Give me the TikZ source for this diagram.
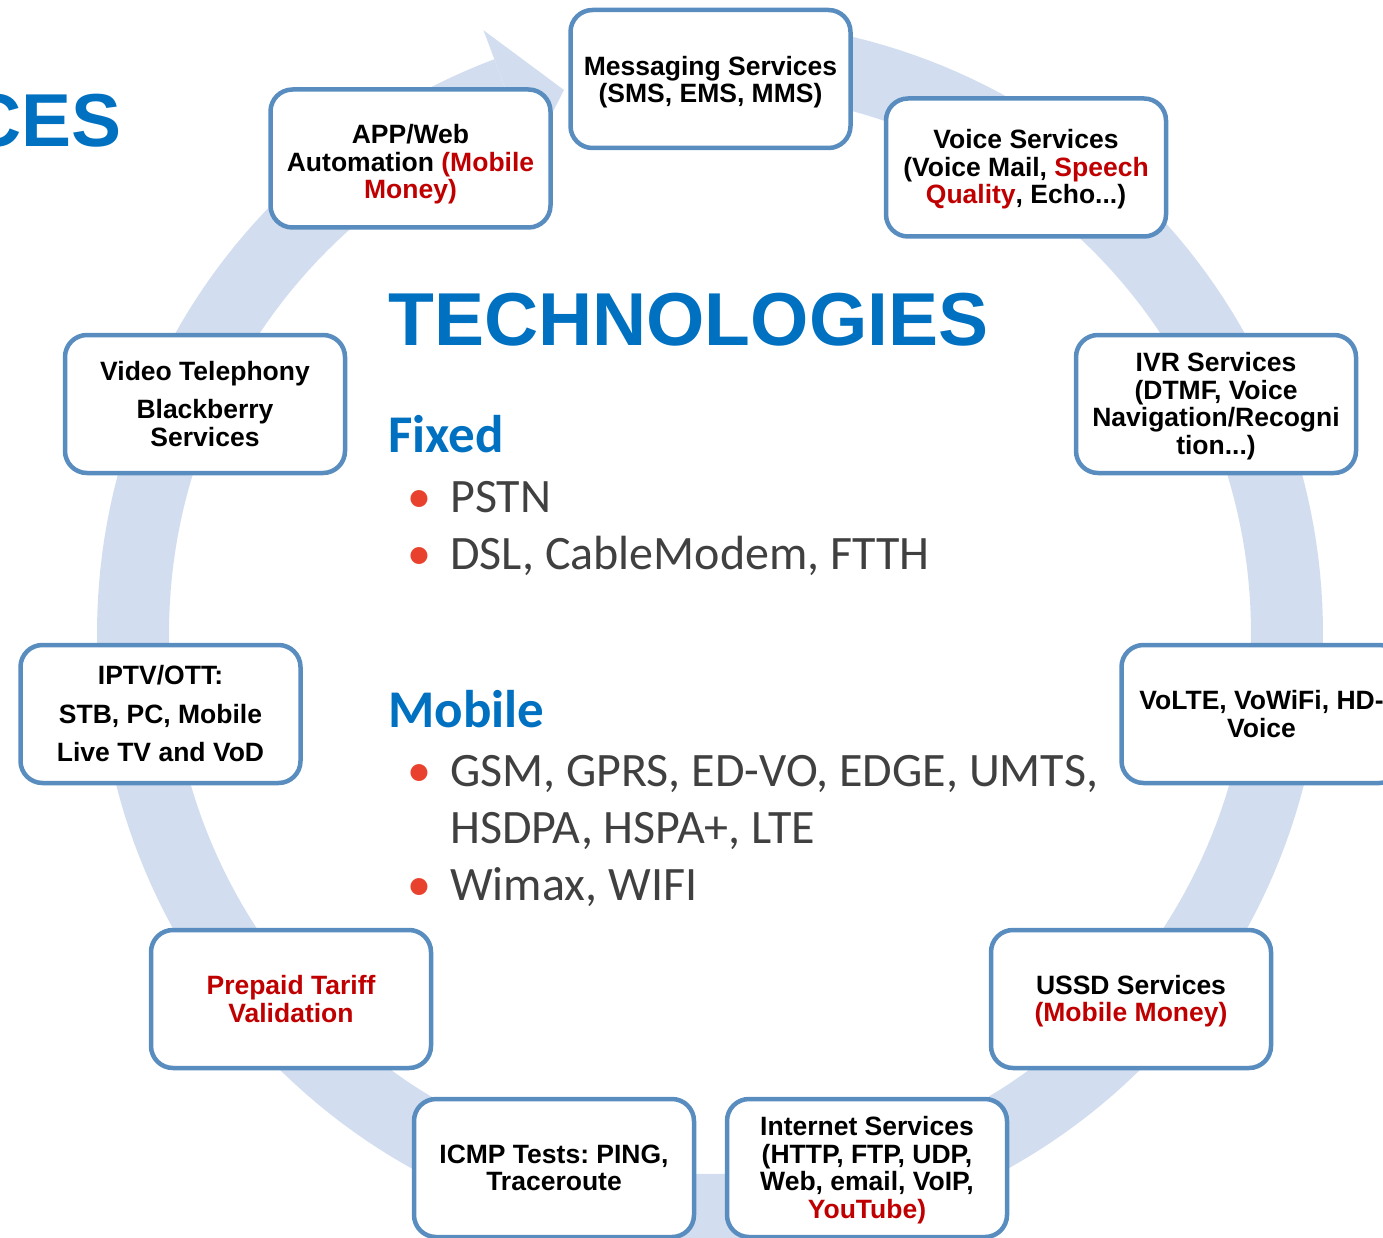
\documentclass[tikz,border=0pt]{standalone}
\usepackage{fontspec}
\setmainfont{Liberation Sans}
\newfontfamily\calibri{Carlito}
\definecolor{ringblue}{RGB}{210,222,239}
\definecolor{boxblue}{RGB}{89,141,191}
\definecolor{titleblue}{RGB}{0,112,192}
\definecolor{txtred}{RGB}{192,0,0}
\definecolor{txtgray}{RGB}{64,64,64}
\definecolor{bulletred}{RGB}{232,66,46}
\newcommand\rd[1]{{\color{txtred}#1}}
\newcommand\bul{\makebox[43pt][l]{\color{bulletred}•}}
\frenchspacing
\begin{document}
\begin{tikzpicture}[x=1pt,y=-1pt,
  box/.style={draw=boxblue, fill=white, line width=4.5pt, rounded corners=22pt,
    minimum width=280pt, minimum height=138pt, inner sep=0pt},
  bt/.style={align=center, inner sep=0pt, font=\bfseries\fontsize{26.5}{27.5}\selectfont},
  bigtitle/.style={inner sep=0pt, text=titleblue, font=\bfseries\fontsize{75}{80}\selectfont},
  heading/.style={anchor=base west, inner sep=0pt, text=titleblue, font=\calibri\bfseries\fontsize{53}{56}\selectfont},
  listline/.style={anchor=base west, inner sep=0pt, text=txtgray, font=\calibri\fontsize{48}{52}\selectfont}]
\useasboundingbox (0,0) rectangle (1383,1238);
\clip (0,0) rectangle (1383,1238);
% circular arrow
\fill[ringblue] plot[domain=95:-249.4,samples=240] ({710+613*cos(\x)},{633-613*sin(\x)})
  -- plot[domain=-249.4:95,samples=240] ({710+541*cos(\x)},{633-541*sin(\x)}) -- cycle;
\coordinate (hout) at ({710+644*cos(110.6)},{633-644*sin(110.6)});
\coordinate (htip) at (564,90);
\coordinate (hin) at ({710+510*cos(110.6)},{633-510*sin(110.6)});
\fill[ringblue] (hout) -- (htip) -- (hin) -- cycle;
% titles
\node[bigtitle, anchor=base east] (ces) at (122,147) {CES};
\node[bigtitle, anchor=base west] (tech) at (388,345) {TECHNOLOGIES};
\node[heading] (fixed) at (388,452) {Fixed};
\node[listline] (l1) at (407,512) {\bul PSTN};
\node[listline] (l2) at (407,569) {\bul DSL, CableModem, FTTH};
\node[heading] (mobile) at (388,727) {Mobile};
\node[listline] (l3) at (407,786) {\bul GSM, GPRS, ED-VO, EDGE, UMTS,};
\node[listline] (l4) at (450,843) {HSDPA, HSPA+, LTE};
\node[listline] (l5) at (407,900) {\bul Wimax, WIFI};
% boxes
\node[box] (msg) at (710.5,79) {};
\node[bt] (msgt) at ([yshift=-3pt]msg.center) {Messaging Services\\(SMS, EMS, MMS)};
\node[box] (app) at (410.5,158.5) {};
\node[bt] (appt) at ([yshift=-6pt]app.center) {APP/Web\\Automation \rd{(Mobile}\\\rd{Money)}};
\node[box] (voice) at (1026,167.5) {};
\node[bt] (voicet) at ([yshift=-2pt]voice.center) {Voice Services\\(Voice Mail, \rd{Speech}\\\rd{Quality}, Echo...)};
\node[box] (ivr) at (1216,404) {};
\node[bt] (ivrt) at ([yshift=-2pt]ivr.center) {IVR Services\\(DTMF, Voice\\Navigation/Recogni\\tion...)};
\node[box] (volte) at (1261.5,714) {};
\node[bt] (voltet) at (volte.center) {VoLTE, VoWiFi, HD-\\Voice};
\node[box] (ussd) at (1131,999) {};
\node[bt] (ussdt) at ([yshift=-2pt]ussd.center) {USSD Services\\\rd{(Mobile Money)}};
\node[box] (inet) at (867,1168) {};
\node[bt] (inett) at ([yshift=-2pt]inet.center) {Internet Services\\(HTTP, FTP, UDP,\\Web, email, VoIP,\\\rd{YouTube)}};
\node[box] (icmp) at (554,1168) {};
\node[bt] (icmpt) at (icmp.center) {ICMP Tests: PING,\\Traceroute};
\node[box] (prepaid) at (291,999) {};
\node[bt] (prepaidt) at (prepaid.center) {\rd{Prepaid Tariff}\\\rd{Validation}};
\node[box] (iptv) at (160.5,714) {};
\node[bt] (iptvt) at (iptv.center) {IPTV/OTT:\\[11pt]STB, PC, Mobile\\[11pt]Live TV and VoD};
\node[box] (video) at (205,404) {};
\node[bt] (videot) at (video.center) {Video Telephony\\[11pt]Blackberry\\Services};
\end{tikzpicture}
\end{document}
